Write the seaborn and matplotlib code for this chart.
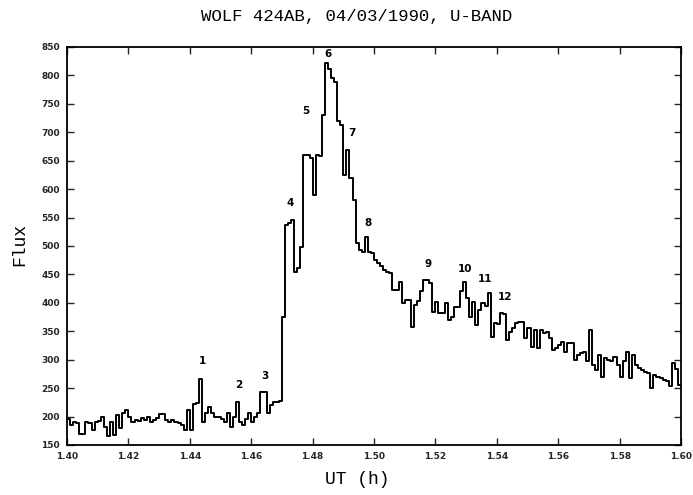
import numpy as np
import pandas as pd
import matplotlib
matplotlib.use("Agg")
import matplotlib.pyplot as plt
import seaborn as sns

# ---- data -------------------------------------------------------------
ut_start = 1.400
ut_end = 1.600
flux = [
    195, 185, 190, 188, 170, 170, 190, 188, 176, 190,
    192, 200, 182, 166, 190, 168, 203, 180, 206, 212,
    200, 191, 194, 192, 197, 194, 200, 191, 194, 197,
    205, 205, 194, 191, 194, 191, 188, 186, 176, 212,
    176, 222, 224, 266, 191, 206, 217, 206, 200, 200,
    195, 191, 206, 182, 200, 226, 191, 185, 195, 206,
    191, 200, 206, 244, 244, 206, 220, 226, 226, 228,
    376, 537, 540, 546, 455, 462, 499, 660, 660, 655,
    590, 660, 658, 730, 822, 812, 795, 789, 720, 713,
    625, 669, 619, 581, 505, 493, 490, 516, 490, 487,
    475, 470, 464, 458, 455, 452, 423, 423, 437, 399,
    405, 405, 358, 396, 403, 420, 440, 440, 435, 384,
    402, 382, 382, 400, 370, 376, 393, 393, 420, 437,
    408, 376, 402, 361, 387, 400, 395, 417, 340, 364,
    362, 382, 380, 335, 349, 355, 364, 367, 367, 338,
    356, 323, 352, 321, 352, 347, 348, 338, 317, 320,
    326, 332, 314, 329, 329, 299, 308, 312, 314, 297,
    352, 291, 282, 308, 270, 303, 300, 297, 305, 290,
    270, 297, 314, 267, 308, 291, 286, 282, 279, 276,
    250, 273, 270, 267, 264, 262, 253, 294, 283, 255,
]
peak_labels = ["1", "2", "3", "4", "5", "6", "7", "8", "9", "10", "11", "12"]
peak_x = [1.4440, 1.4560, 1.4645, 1.4726, 1.4778, 1.4850, 1.4928, 1.4980,
          1.5176, 1.5296, 1.5362, 1.5427]
peak_y = [298, 256, 271, 576, 737, 838, 699, 540, 468, 460, 442, 410]
xticks = [1.40, 1.42, 1.44, 1.46, 1.48, 1.50, 1.52, 1.54, 1.56, 1.58, 1.60]
yticks = [150, 200, 250, 300, 350, 400, 450, 500, 550, 600, 650, 700, 750, 800, 850]
title = "WOLF 424AB, 04/03/1990, U-BAND"
xlabel = "UT (h)"
ylabel = "Flux"

# time grid: bin edges (last value repeated to close the final step)
ut = np.linspace(ut_start, ut_end, len(flux) + 1)
df = pd.DataFrame({"ut": ut, "flux": flux + [flux[-1]]})

# ---- plot -------------------------------------------------------------
sns.set_theme(style="ticks")
plt.rcParams["font.family"] = ["DejaVu Sans"]

fig = plt.figure(figsize=(6.93, 4.95), dpi=100)
ax = fig.add_axes([67 / 693, 1 - 445 / 495, 614 / 693, 398 / 495])

sns.lineplot(data=df, x="ut", y="flux", drawstyle="steps-post",
             color="black", linewidth=1.4, estimator=None, sort=False, ax=ax)

ax.set_xlim(ut_start, ut_end)
ax.set_ylim(150, 850)
ax.set_xticks(xticks)
ax.set_xticklabels([f"{t:.2f}" for t in xticks])
ax.set_yticks(yticks)
ax.set_yticklabels([str(t) for t in yticks])
ax.tick_params(direction="in", length=5, width=1.0, top=True, right=True,
               labelsize=6.5, pad=5)
for lab in ax.get_xticklabels() + ax.get_yticklabels():
    lab.set_fontweight("bold")
for sp in ax.spines.values():
    sp.set_linewidth(1.3)
    sp.set_color("black")
ax.set_xlabel("")
ax.set_ylabel("")

for lab, x, y in zip(peak_labels, peak_x, peak_y):
    ax.text(x, y, lab, ha="center", va="center", fontsize=7.5,
            fontweight="bold", color="black")

mono = ["Liberation Mono", "DejaVu Sans Mono"]
fig.text(357 / 693, 1 - 17 / 495, title, ha="center", va="center",
         fontsize=12.5, family=mono, color="black")
fig.text(357 / 693, 1 - 480 / 495, xlabel, ha="center", va="center",
         fontsize=13, family=mono, color="black")
fig.text(20 / 693, 1 - 245 / 495, ylabel, ha="center", va="center",
         rotation=90, fontsize=13, family=mono, color="black")

fig.savefig("out.png", dpi=100, facecolor="white")
